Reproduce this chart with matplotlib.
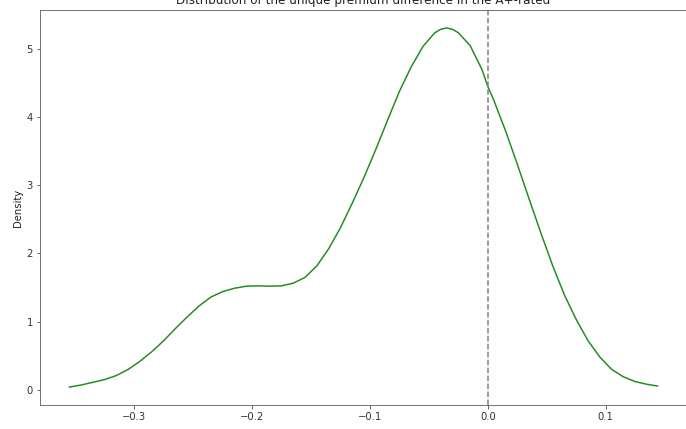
import numpy as np
import matplotlib
matplotlib.use("Agg")
import matplotlib.pyplot as plt

# density estimate of the premium difference, sampled along the x axis
premium_diff = [-0.355, -0.345, -0.335, -0.325, -0.315, -0.305, -0.295,
                -0.285, -0.275, -0.265, -0.255, -0.245, -0.235, -0.225,
                -0.215, -0.205, -0.195, -0.185, -0.175, -0.165, -0.155,
                -0.145, -0.135, -0.125, -0.115, -0.105, -0.095, -0.085,
                -0.075, -0.065, -0.055, -0.045, -0.04, -0.035, -0.03,
                -0.025, -0.015, -0.005, 0.0, 0.005, 0.015, 0.025, 0.035,
                0.045, 0.055, 0.065, 0.075, 0.085, 0.095, 0.105, 0.115,
                0.125, 0.135, 0.144]
density = [0.04, 0.07, 0.11, 0.15, 0.21, 0.30, 0.42,
           0.56, 0.72, 0.90, 1.07, 1.23, 1.36, 1.44,
           1.49, 1.52, 1.525, 1.52, 1.525, 1.565, 1.65,
           1.82, 2.07, 2.38, 2.74, 3.12, 3.53, 3.96,
           4.38, 4.74, 5.04, 5.24, 5.29, 5.31, 5.29,
           5.24, 5.05, 4.70, 4.45, 4.25, 3.80, 3.31, 2.80,
           2.30, 1.82, 1.39, 1.03, 0.72, 0.48, 0.30, 0.19,
           0.12, 0.08, 0.055]
ref_line = 0.0

title = "Distribution of the unique premium difference in the A+-rated"

fig = plt.figure(figsize=(686 / 72, 429 / 72), dpi=72)
ax = fig.add_axes([40 / 686, 24 / 429, 647 / 686, 395 / 429])

ax.plot(premium_diff, density, color="forestgreen", lw=1.5)
ax.axvline(ref_line, color="gray", ls="--", lw=1.5)
ax.margins(0.05)

ax.set_title(title, fontsize=12, color="#222222")
ax.set_ylabel("Density", fontsize=10, color="#222222")
ax.set_xticks([-0.3, -0.2, -0.1, 0.0, 0.1])
ax.set_yticks([0, 1, 2, 3, 4, 5])
ax.tick_params(labelsize=10, colors="#444444", labelcolor="#333333")
for side in ax.spines.values():
    side.set_color("#555555")

fig.savefig("out.png", dpi=72)
